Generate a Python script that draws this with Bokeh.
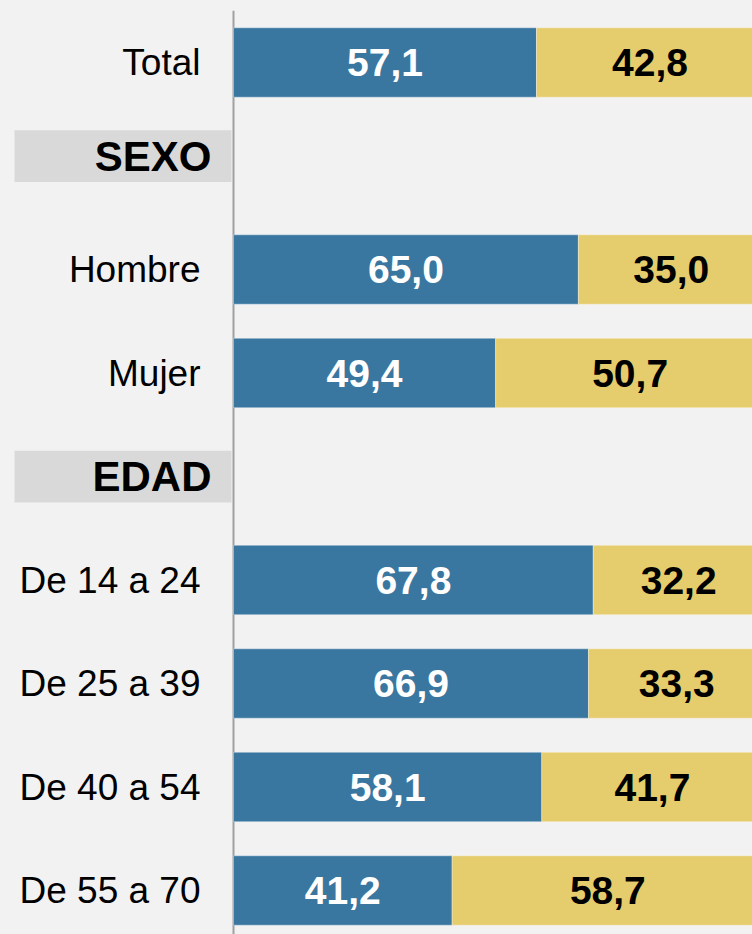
from bokeh.plotting import figure
from bokeh.models import ColumnDataSource, Range1d
from bokeh.core.properties import value
from bokeh.embed import file_html
from bokeh.resources import INLINE

# ---- data ----
rows = ["Total", "SEXO", "Hombre", "Mujer", "EDAD",
        "De 14 a 24", "De 25 a 39", "De 40 a 54", "De 55 a 70"]
is_header = [False, True, False, False, True, False, False, False, False]
serie_a = [57.1, None, 65.0, 49.4, None, 67.8, 66.9, 58.1, 41.2]
serie_b = [42.8, None, 35.0, 50.7, None, 32.2, 33.3, 41.7, 58.7]

# ---- style / layout constants ----
W, H = 752, 934
PX_PER_UNIT = 5.306      # horizontal scale (pixels per percentage point)
ZERO_PX = 233            # pixel position of the value 0
ROW_PX = 103.5           # pixel spacing between rows
FIRST_ROW_PX = 62        # pixel centre of the first row
HEADER_NUDGE_PX = {"SEXO": -10}   # small vertical nudge of header bands
BG = "#f2f2f2"
BLUE = "#3a77a0"
YELLOW = "#e5cc6c"
FONT = "Liberation Sans"

idx = list(range(len(rows)))
bar_y, bar_a, bar_b, lab_y, lab_t = [], [], [], [], []
hdr_y, hdr_t = [], []
for i, name, h, a, b in zip(idx, rows, is_header, serie_a, serie_b):
    if h:
        hdr_y.append(i + HEADER_NUDGE_PX.get(name, 0) / ROW_PX)
        hdr_t.append(name)
    else:
        bar_y.append(i)
        bar_a.append(a)
        bar_b.append(b)
        lab_y.append(i)
        lab_t.append(name)

fmt = lambda v: f"{v:.1f}".replace(".", ",")
bars = ColumnDataSource(dict(
    y=bar_y, a=bar_a, b=bar_b,
    ab=[a + b for a, b in zip(bar_a, bar_b)],
    a_mid=[a / 2 for a in bar_a],
    b_mid=[a + b / 2 for a, b in zip(bar_a, bar_b)],
    a_txt=[fmt(a) for a in bar_a],
    b_txt=[fmt(b) for b in bar_b],
))
labels = ColumnDataSource(dict(y=lab_y, t=lab_t, x=[0] * len(lab_y)))
headers = ColumnDataSource(dict(y=hdr_y, t=hdr_t, x=[0] * len(hdr_y)))

x_start = -ZERO_PX / PX_PER_UNIT
x_end = (W - ZERO_PX) / PX_PER_UNIT
y_top = -FIRST_ROW_PX / ROW_PX
y_bottom = (H - FIRST_ROW_PX) / ROW_PX

p = figure(width=W, height=H, output_backend="svg", toolbar_location=None,
           x_range=Range1d(x_start, x_end), y_range=Range1d(y_bottom, y_top),
           x_axis_location=None, y_axis_location=None,
           min_border=0, min_border_left=0, min_border_right=0,
           min_border_top=0, min_border_bottom=0)
p.background_fill_color = BG
p.border_fill_color = BG
p.outline_line_color = None
p.xgrid.visible = False
p.ygrid.visible = False

# header boxes
hdr_left = (14 - ZERO_PX) / PX_PER_UNIT
hdr_right = (231 - ZERO_PX) / PX_PER_UNIT
p.hbar(y="y", left=hdr_left, right=hdr_right, height=0.5, source=headers,
       fill_color="#d9d9d9", line_color=None)

# vertical axis line
p.segment(x0=[0], x1=[0], y0=[-0.5], y1=[len(rows) - 0.5],
          line_color="#a0a0a0", line_width=2)

# stacked bars
p.hbar(y="y", left=0, right="a", height=0.67, source=bars,
       fill_color=BLUE, line_color="white", line_alpha=0.35, line_width=1)
p.hbar(y="y", left="a", right="ab", height=0.67, source=bars,
       fill_color=YELLOW, line_color="white", line_alpha=0.35, line_width=1)

# value labels
p.text(x="a_mid", y="y", text="a_txt", source=bars,
       text_font=value(FONT), text_font_size="39px", text_font_style="bold",
       text_color="white", text_align="center", text_baseline="middle")
p.text(x="b_mid", y="y", text="b_txt", source=bars,
       text_font=value(FONT), text_font_size="39px", text_font_style="bold",
       text_color="black", text_align="center", text_baseline="middle")

# category labels
p.text(x="x", y="y", text="t", source=labels, x_offset=-33,
       text_font=value(FONT), text_font_size="37px",
       text_color="black", text_align="right", text_baseline="middle")
p.text(x="x", y="y", text="t", source=headers, x_offset=-22,
       text_font=value(FONT), text_font_size="42px", text_font_style="bold",
       text_color="black", text_align="right", text_baseline="middle")

html = file_html(p, INLINE)
html = html.replace("<head>", "<head><style>html,body{margin:0;padding:0;background:%s;overflow:hidden}</style>" % BG, 1)
open("out.html", "w").write(html)
